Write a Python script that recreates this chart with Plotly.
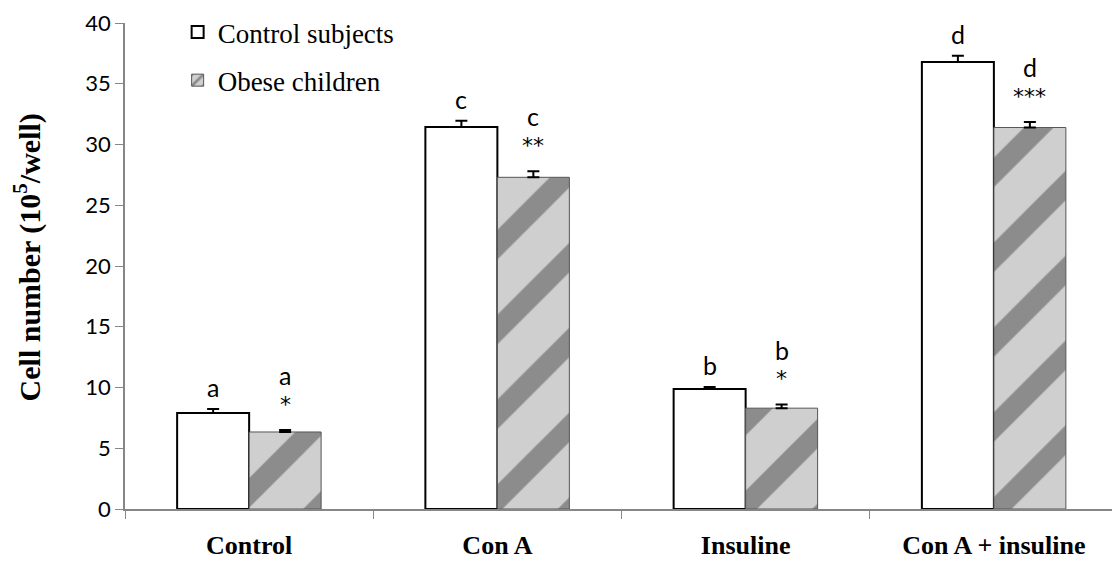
import plotly.graph_objects as go

categories = ["Control", "Con A", "Insuline", "Con A + insuline"]
control_vals = [7.9, 31.45, 9.87, 36.8]
control_err = [0.33, 0.5, 0.18, 0.5]
obese_vals = [6.34, 27.3, 8.3, 31.4]
obese_err = [0.16, 0.5, 0.3, 0.45]
control_letters = ["a", "c", "b", "d"]
obese_letters = ["a", "c", "b", "d"]
obese_stars = ["*", "**", "*", "***"]

serif = "Liberation Serif, Times New Roman, serif"
sans = "Lato, Open Sans, sans-serif"

fig = go.Figure()
fig.add_trace(go.Bar(
    x=categories, y=control_vals, name="Control subjects", legendgroup="g1",
    marker=dict(color="white", line=dict(color="black", width=2)),
    error_y=dict(type="data", array=control_err, arrayminus=[0]*4, symmetric=False,
                 color="black", thickness=2, width=6),
))
fig.add_trace(go.Bar(
    x=categories, y=obese_vals, name="Obese children", legendgroup="g2",
    marker=dict(color="#c8c8c8", line=dict(color="#555555", width=1),
                pattern=dict(shape="/", fgcolor="#4a4a4a", bgcolor="#cfcfcf",
                             size=60, solidity=0.35)),
    error_y=dict(type="data", array=obese_err, arrayminus=[0]*4, symmetric=False,
                 color="black", thickness=2, width=6),
))

letter_font = dict(family=sans, size=25, color="black")
star_font = dict(family="DejaVu Sans, sans-serif", size=22, color="black")
for i, c in enumerate(categories):
    fig.add_annotation(x=c, y=control_vals[i] + control_err[i], text=control_letters[i],
                       xshift=-36, yshift=22, yanchor="middle", showarrow=False, font=letter_font)
    fig.add_annotation(x=c, y=obese_vals[i] + obese_err[i], text=obese_stars[i],
                       xshift=36, yshift=26, yanchor="middle", showarrow=False, font=star_font)
    fig.add_annotation(x=c, y=obese_vals[i] + obese_err[i], text=obese_letters[i],
                       xshift=36, yshift=55, yanchor="middle", showarrow=False, font=letter_font)

fig.add_annotation(xref="paper", yref="paper", x=-0.098, y=0.517, xanchor="center", yanchor="middle",
                   text="<b>Cell number (10<sup>5</sup>/well)</b>", textangle=-90, showarrow=False,
                   font=dict(family=serif, size=30, color="black"))

fig.update_layout(
    width=1112, height=554,
    margin=dict(l=117, r=2, t=15, b=53, autoexpand=False),
    plot_bgcolor="white", paper_bgcolor="white",
    barmode="group", bargap=0.42, bargroupgap=0,
    showlegend=True,
    legend=dict(x=0.053, y=1.0, xanchor="left", yanchor="top", yref="container",
                font=dict(family=serif, size=27, color="black"),
                tracegroupgap=10, bgcolor="rgba(0,0,0,0)"),
    xaxis=dict(showline=True, linecolor="#868686", linewidth=1.5, automargin=False,
               ticks="outside", tickson="boundaries", ticklen=8, tickcolor="#868686",
               tickfont=dict(family=serif, size=26, color="black", weight="bold"),
               ticklabelstandoff=12, showgrid=False),
    yaxis=dict(range=[0, 40], dtick=5, showline=True, linecolor="#868686", linewidth=1.5,
               automargin=False, ticks="outside", ticklen=8, tickcolor="#868686",
               showgrid=False, zeroline=False,
               tickfont=dict(family=sans, size=22, color="black")),
)

fig.write_html("out.html")
